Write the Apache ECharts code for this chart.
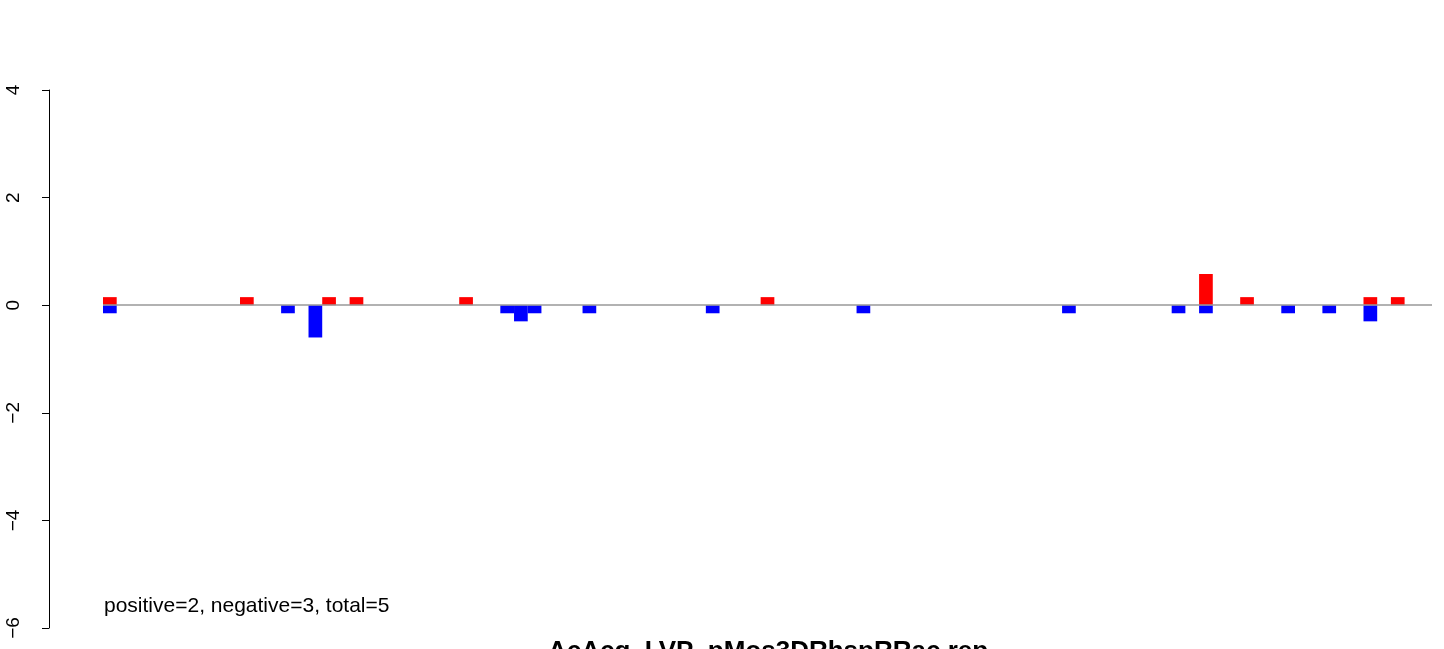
<!DOCTYPE html>
<html>
<head>
<meta charset="utf-8">
<script src="https://cdn.jsdelivr.net/npm/echarts@6/dist/echarts.min.js"></script>
<style>
html,body{margin:0;padding:0;background:#fff;}
#chart{width:1444px;height:649px;}
</style>
</head>
<body>
<div id="chart"></div>
<script>
// 97 slots (positions)
const slotCount = 97;
const positiveIdx = [0, 10, 16, 18, 26, 48, 80, 83, 92, 94];
const positiveVal = [0.15, 0.15, 0.15, 0.15, 0.15, 0.15, 0.58, 0.15, 0.15, 0.15];
const negativeIdx = [0, 13, 15, 29, 30, 31, 35, 44, 55, 70, 78, 80, 86, 89, 92];
const negativeVal = [-0.15, -0.15, -0.6, -0.15, -0.3, -0.15, -0.15, -0.15, -0.15, -0.15, -0.15, -0.15, -0.15, -0.15, -0.3];
const yTicks = [-6, -4, -2, 0, 2, 4];
const titleText = 'AcAcq_LVP_pMos3DRhspRRac.rep';
const noteText = 'positive=2, negative=3, total=5';

const categories = [];
for (let i = 0; i < slotCount; i++) categories.push(String(i + 1));
const posData = new Array(slotCount).fill(null);
positiveIdx.forEach((k, j) => { posData[k] = positiveVal[j]; });
const negData = new Array(slotCount).fill(null);
negativeIdx.forEach((k, j) => { negData[k] = negativeVal[j]; });

const chart = echarts.init(document.getElementById('chart'), null, {renderer: 'canvas'});
const FONT = '"Liberation Sans", Arial, Helvetica, sans-serif';
chart.setOption({
  animation: false,
  backgroundColor: '#ffffff',
  grid: {left: 103, right: 12, top: 90, bottom: 21, containLabel: false},
  xAxis: {
    type: 'category',
    data: categories,
    boundaryGap: true,
    show: false
  },
  yAxis: {
    type: 'value',
    min: yTicks[0],
    max: yTicks[yTicks.length - 1],
    interval: 2,
    offset: 54,
    splitLine: {show: false},
    axisLine: {show: true, lineStyle: {color: '#000', width: 1}},
    axisTick: {show: true, length: 7, lineStyle: {color: '#000', width: 1}},
    axisLabel: {
      rotate: 90,
      margin: 26,
      color: '#000',
      fontSize: 19,
      fontFamily: FONT,
      formatter: v => String(v).replace('-', '\u2212')
    }
  },
  series: [
    {
      name: 'positive',
      type: 'bar',
      data: posData,
      barGap: '-100%',
      barCategoryGap: '0%',
      itemStyle: {color: '#ff0000'},
      markLine: {
        silent: true,
        symbol: 'none',
        label: {show: false},
        lineStyle: {color: '#999999', width: 1.5, type: 'solid'},
        data: [{yAxis: 0}]
      },
      z: 3
    },
    {
      name: 'negative',
      type: 'bar',
      data: negData,
      barGap: '-100%',
      barCategoryGap: '0%',
      itemStyle: {color: '#0000ff'},
      z: 3
    }
  ],
  graphic: [
    {
      type: 'text',
      left: 104,
      top: 596,
      style: {text: noteText, font: '21px ' + FONT, fill: '#000'}
    },
    {
      type: 'text',
      x: 768,
      y: 639,
      style: {text: titleText, font: 'bold 26px ' + FONT, fill: '#000', textAlign: 'center', textVerticalAlign: 'top'}
    }
  ]
});
</script>
</body>
</html>
